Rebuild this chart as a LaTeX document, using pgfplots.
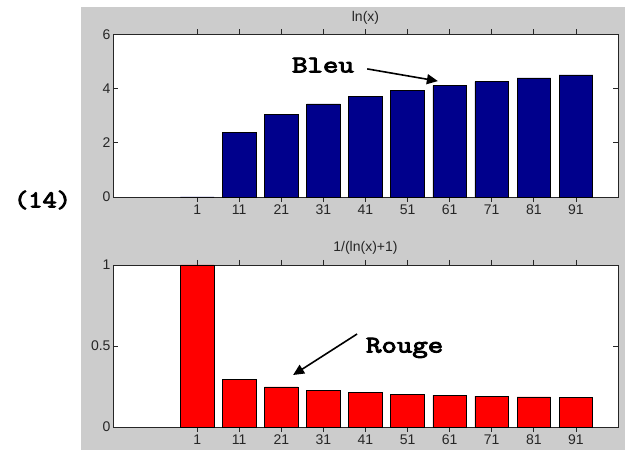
\documentclass[border=0pt]{standalone}
\usepackage{fontspec}
\setmainfont{Liberation Sans}
\newfontfamily\annfont{Latin Modern Mono}[FakeBold=3.5]
\usepackage{pgfplots}
\pgfplotsset{compat=1.18}
\usetikzlibrary{arrows.meta}

\definecolor{figgray}{RGB}{204,204,204}
\definecolor{barblue}{RGB}{0,0,140}
\definecolor{barred}{RGB}{255,0,0}
\definecolor{axcol}{RGB}{38,38,38}

% x index, ln(x) and 1/(ln(x)+1) for x = 1, 11, ..., 91
\pgfplotstableread{
idx  lnx     inv
1    0.0000  1.0000
2    2.3979  0.2943
3    3.0445  0.2472
4    3.4340  0.2255
5    3.7136  0.2121
6    3.9318  0.2028
7    4.1109  0.1957
8    4.2627  0.1901
9    4.3944  0.1854
10   4.5109  0.1815
}\datatable

\pgfplotsset{
  matstyle/.style={
    scale only axis,
    width=505pt,
    xmin=-1, xmax=11,
    axis background/.style={fill=white},
    axis line style={axcol, line width=0.8pt},
    xtick={1,...,10},
    xticklabels={1,11,21,31,41,51,61,71,81,91},
    tick align=inside,
    xtick pos=both, ytick pos=both,
    xticklabel pos=lower, yticklabel pos=left,
    major tick length=5pt,
    tick style={axcol, line width=0.7pt},
    /pgf/number format/assume math mode=true,
    ticklabel style={font=\fontsize{14}{14}\selectfont, text=axcol},
    xticklabel style={yshift=1pt},
    yticklabel style={xshift=1pt},
    title style={font=\fontsize{14}{14}\selectfont, text=axcol, at={(0.5,1)}, anchor=south, yshift=1pt},
    ybar, bar width=0.8,
    every axis plot/.append style={draw=black, line width=0.6pt},
    clip=false,
  }
}

\begin{document}
\begin{tikzpicture}[x=1pt,y=1pt]
  % figure canvas
  \fill[white] (0,0) rectangle (625,450);
  \fill[figgray] (81,0) rectangle (625,443);

  % upper panel
  \begin{axis}[matstyle, at={(113pt,253pt)}, anchor=south west, height=162.5pt,
      ymin=0, ymax=6, ytick={0,2,4,6}, title={ln(x)}]
    \addplot[fill=barblue] table[x=idx, y=lnx] {\datatable};
    \node[font=\annfont\fontsize{24}{24}\selectfont, xscale=1.25] at (axis cs:3.99,4.87) {Bleu};
    \draw[line width=1.6pt, -{Triangle[length=11pt,width=10pt]}] (axis cs:5.04,4.73) -- (axis cs:6.72,4.28);
  \end{axis}

  % lower panel
  \begin{axis}[matstyle, at={(113pt,23pt)}, anchor=south west, height=162pt,
      ymin=0, ymax=1, ytick={0,0.5,1}, title={1/(ln(x)+1)}]
    \addplot[fill=barred] table[x=idx, y=inv] {\datatable};
    \node[font=\annfont\fontsize{24}{24}\selectfont, xscale=1.25] at (axis cs:5.93,0.488) {Rouge};
    \draw[line width=1.6pt, -{Triangle[length=11pt,width=10pt]}] (axis cs:4.80,0.574) -- (axis cs:3.28,0.321);
  \end{axis}

  % figure number
  \node[font=\annfont\fontsize{24}{24}\selectfont, xscale=1.15] at (42.5,250) {(14)};
\end{tikzpicture}
\end{document}
